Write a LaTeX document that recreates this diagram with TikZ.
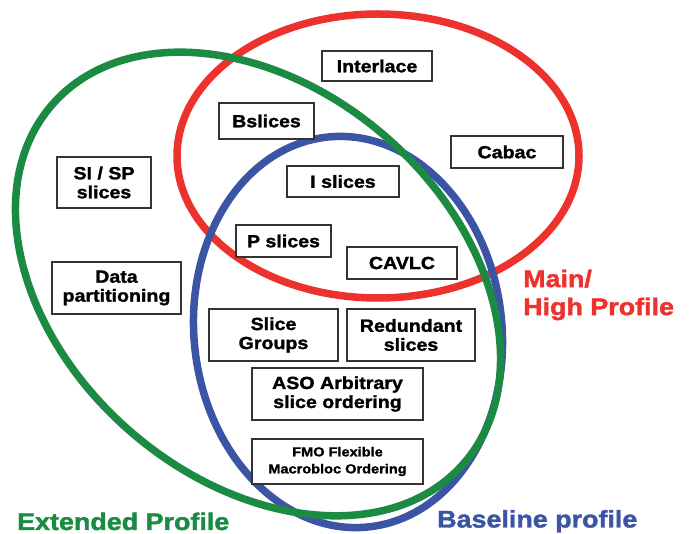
\documentclass[tikz,border=0pt]{standalone}
\usepackage{fontspec}
\newfontfamily\bfont[FakeStretch=1.12,BoldFeatures={FakeBold=1.6}]{Liberation Sans}
\definecolor{vred}{RGB}{237,50,45}
\definecolor{vgreen}{RGB}{27,138,66}
\definecolor{vblue}{RGB}{59,85,164}
\begin{document}
\begin{tikzpicture}[x=1pt,y=-1pt,
  box/.style={draw=black!80, line width=1.1pt, fill=white, inner sep=0pt, align=center,
    font=\bfont\bfseries\fontsize{17.5}{19}\selectfont},
  smallbox/.style={box, font=\bfont\bfseries\fontsize{13}{17}\selectfont},
  ring/.style={line width=7.5pt},
  lab/.style={inner sep=0pt, font=\bfont\bfseries\fontsize{24}{28}\selectfont}]
\useasboundingbox (0,0) rectangle (689,534);
% rings
\draw[ring, vred] (378,156) ellipse [x radius=201pt, y radius=142pt];
\draw[ring, vblue, rotate around={6:(348,332)}] (348,332) ellipse [x radius=154pt, y radius=196pt];
\draw[ring, vgreen, rotate around={-41:(258,284)}] (258,284) ellipse [x radius=273pt, y radius=195pt];
% boxes
\node[box, minimum width=110pt, minimum height=30pt] (interlace) at (377,66) {Interlace};
\node[box, minimum width=95pt, minimum height=36pt] (bslices) at (266.5,121) {Bslices};
\node[box, minimum width=112pt, minimum height=32pt] (cabac) at (507,152) {Cabac};
\node[box, minimum width=94pt, minimum height=51pt] (sisp) at (104,182.5) {SI / SP\\slices};
\node[box, minimum width=112pt, minimum height=31pt] (islices) at (343,181.5) {I slices};
\node[box, minimum width=95pt, minimum height=32pt] (pslices) at (283.5,241) {P slices};
\node[box, minimum width=110pt, minimum height=32pt] (cavlc) at (402,263) {CAVLC};
\node[box, minimum width=129pt, minimum height=52pt] (datapart) at (116.5,288) {Data\\partitioning};
\node[box, minimum width=129pt, minimum height=52pt] (slicegroups) at (273.5,335) {Slice\\Groups};
\node[box, minimum width=128pt, minimum height=52pt] (redundant) at (411,335) {Redundant\\slices};
\node[box, minimum width=171pt, minimum height=52pt] (aso) at (337.5,394) {ASO Arbitrary\\slice ordering};
\node[smallbox, minimum width=171pt, minimum height=45pt] (fmo) at (337.5,461.5) {FMO Flexible\\Macrobloc Ordering};
% labels
\node[lab, text=vred, anchor=north west, align=left] (mainlab) at (523,269.5) {Main/\\High Profile};
\node[lab, text=vgreen, anchor=base west] (extlab) at (17,530) {Extended Profile};
\node[lab, text=vblue, anchor=base west] (baselab) at (437,527.5) {Baseline profile};
\end{tikzpicture}
\end{document}
